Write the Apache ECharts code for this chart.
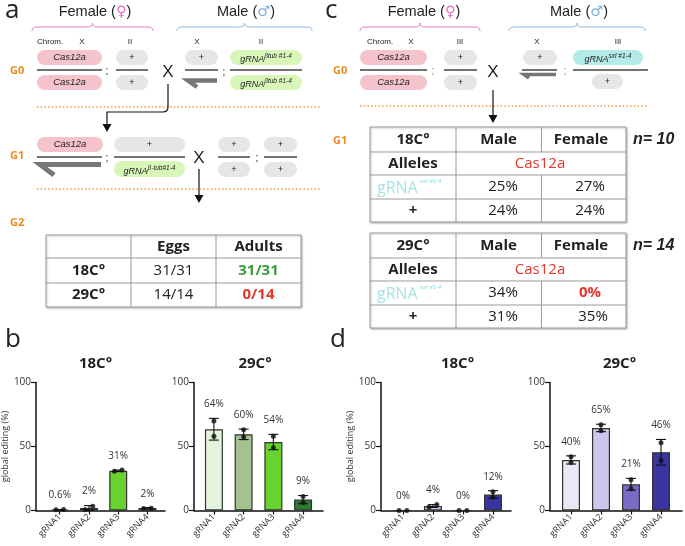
<!DOCTYPE html>
<html>
<head>
<meta charset="utf-8">
<script src="https://cdn.jsdelivr.net/npm/echarts@6/dist/echarts.min.js"></script>
<style>
  html, body { margin: 0; padding: 0; background: #fff; }
  #main { width: 685px; height: 546px; }
</style>
</head>
<body>
<div id="main"></div>
<script>
// categories + tick labels
const guides = ['gRNA1', 'gRNA2', 'gRNA3', 'gRNA4'];
const guideTicks = [0, 1, 2, 3];

// panel b, beta-tub guides
const b18Mean = [0.6, 2, 31, 2];
const b18Sd = [0.1, 1.8, 0.6, 0.2];
const b18Rep1 = [0.5, 0.6, 30.6, 1.5];
const b18Rep2 = [0.7, 3.3, 31.6, 1.7];
const b18Labels = ['0.6%', '2%', '31%', '2%'];

const b29Mean = [63.5, 59.5, 53.5, 8.5];
const b29Sd = [8.5, 4.1, 6, 3.2];
const b29Rep1 = [70, 63, 58, 11];
const b29Rep2 = [58, 57.5, 49, 6.2];
const b29Labels = ['64%', '60%', '54%', '9%'];

// panel d, sxl guides
const d18Mean = [0, 3.5, 0, 12.5];
const d18Sd = [0, 1.1, 0, 3];
const d18Rep1 = [0, 2.6, 0, 14.6];
const d18Rep2 = [0, 4.6, 0, 10.3];
const d18Labels = ['0%', '4%', '0%', '12%'];

const d29Mean = [39.5, 64.5, 20.5, 45.5];
const d29Sd = [3.2, 2.9, 4.6, 10];
const d29Rep1 = [42, 67, 24, 53];
const d29Rep2 = [37.5, 62.3, 17, 39];
const d29Labels = ['40%', '65%', '21%', '46%'];

// tables
const tableAHeader = ['', 'Eggs', 'Adults'];
const tableARows = [['18C°', '31/31', '31/31'], ['29C°', '14/14', '0/14']];
const tableC18 = [['25%', '27%'], ['24%', '24%']];
const tableC29 = [['34%', '0%'], ['31%', '35%']];

const greens = ['#e3f5da', '#a2c28f', '#68d32f', '#2e7b30'];
const purples = ['#e9e8f5', '#cdc6ee', '#7a6bc6', '#3a34a2'];

const FONT = '"Liberation Sans", Arial, sans-serif';
const TFONT = '"Open Sans", "Noto Sans", sans-serif';
const ORANGE = '#ef8a1f';

const charts = [
  { mean: b18Mean, sd: b18Sd, r1: b18Rep1, r2: b18Rep2, labels: b18Labels, colors: greens,
    left: 34, width: 131, min: -0.81, max: 3.6, title: '18C°', yName: true },
  { mean: b29Mean, sd: b29Sd, r1: b29Rep1, r2: b29Rep2, labels: b29Labels, colors: greens,
    left: 194, width: 129, min: -0.67, max: 3.67, title: '29C°' },
  { mean: d18Mean, sd: d18Sd, r1: d18Rep1, r2: d18Rep2, labels: d18Labels, colors: purples,
    left: 381, width: 130, min: -0.73, max: 3.6, title: '18C°', yName: true },
  { mean: d29Mean, sd: d29Sd, r1: d29Rep1, r2: d29Rep2, labels: d29Labels, colors: purples,
    left: 550, width: 132, min: -0.7, max: 3.7, title: '29C°' }
];

const grid = [], xAxis = [], yAxis = [], series = [];
charts.forEach((c, k) => {
  grid.push({ left: c.left, top: 382.5, width: c.width, height: 128 });
  xAxis.push({
    type: 'value', gridIndex: k, min: c.min, max: c.max,
    splitLine: { show: false },
    axisLine: { onZero: false, lineStyle: { color: '#111', width: 1.5 } },
    axisTick: { customValues: guideTicks, length: 4, lineStyle: { color: '#111', width: 1.2 } },
    axisLabel: { customValues: guideTicks, rotate: 45, fontSize: 9, color: '#333', margin: 5,
      fontFamily: TFONT, formatter: v => guides[v] }
  });
  yAxis.push({
    type: 'value', gridIndex: k, min: 0, max: 100, interval: 50,
    name: c.yName ? 'global editing (%)' : '',
    nameLocation: 'middle', nameRotate: 90, nameGap: 26,
    nameTextStyle: { fontSize: 9, color: '#333', fontFamily: TFONT },
    splitLine: { show: false },
    axisLine: { show: true, onZero: false, lineStyle: { color: '#111', width: 1.5 } },
    axisTick: { show: true, length: 5, lineStyle: { color: '#111', width: 1.2 } },
    axisLabel: { fontSize: 10, color: '#333', margin: 5, fontFamily: TFONT }
  });
  series.push({
    type: 'bar', xAxisIndex: k, yAxisIndex: k, barWidth: 18, z: 2,
    data: c.mean.map((m, i) => ({ value: [i, m],
      itemStyle: { color: c.colors[i], borderColor: '#333', borderWidth: 1.2 } }))
  });
  series.push({
    type: 'custom', xAxisIndex: k, yAxisIndex: k, z: 3, clip: false,
    data: c.mean.map((m, i) => [i, m, c.sd[i], Math.max(m + c.sd[i], c.r1[i], c.r2[i])]),
    renderItem: (params, api) => {
      const x = api.value(0), m = api.value(1), s = api.value(2), top = api.value(3);
      const pT = api.coord([x, m + s]);
      const pB = api.coord([x, Math.max(0, m - s)]);
      const pL = api.coord([x, top]);
      const st = { stroke: '#111', lineWidth: 1.1 };
      const kids = [];
      if (s > 0) {
        kids.push({ type: 'line', shape: { x1: pT[0], y1: pT[1], x2: pB[0], y2: pB[1] }, style: st });
        kids.push({ type: 'line', shape: { x1: pT[0] - 5, y1: pT[1], x2: pT[0] + 5, y2: pT[1] }, style: st });
        kids.push({ type: 'line', shape: { x1: pB[0] - 5, y1: pB[1], x2: pB[0] + 5, y2: pB[1] }, style: st });
      }
      kids.push({ type: 'text', x: pL[0], y: pL[1] - 14,
        style: { text: c.labels[params.dataIndex], fill: '#333', fontSize: 10, fontFamily: TFONT,
          textAlign: 'center', textVerticalAlign: 'middle' } });
      return { type: 'group', children: kids };
    }
  });
  const dots = [];
  c.mean.forEach((m, i) => {
    const close = Math.abs(c.r1[i] - c.r2[i]) < 3;
    dots.push([i - (close ? 0.13 : 0), c.r1[i]]);
    dots.push([i + (close ? 0.13 : 0), c.r2[i]]);
  });
  series.push({
    type: 'scatter', xAxisIndex: k, yAxisIndex: k, z: 4, symbolSize: 5,
    itemStyle: { color: '#111' }, data: dots
  });
});

// ---- diagram helpers ----
function txt(x, y, text, o) {
  return { type: 'text', x, y, silent: true, z: 10,
    style: Object.assign({ text, fill: '#222', fontSize: 10, fontFamily: FONT,
      textAlign: 'center', textVerticalAlign: 'middle' }, o || {}) };
}
function pill(x, y, w, h, fill, label, rich) {
  const r = { type: 'rect', shape: { x, y, width: w, height: h, r: h / 2 }, style: { fill }, z: 5 };
  let t;
  if (rich) {
    t = txt(x + w / 2, y + h / 2 + 1, label, { rich: {
      a: { fontSize: 9, fontStyle: 'italic', fontFamily: FONT, fill: '#222', lineHeight: 11, verticalAlign: 'bottom' },
      s: { fontSize: 6.5, fontStyle: 'italic', fontFamily: FONT, fill: '#222', lineHeight: 7, padding: [0, 0, 4, 0], verticalAlign: 'bottom' }
    } });
  } else {
    t = txt(x + w / 2, y + h / 2, label, { fontSize: label === '+' ? 9 : 9.5,
      fontStyle: label === '+' ? 'normal' : 'italic' });
  }
  return [r, t];
}
function hline(x1, x2, y, stroke, lw, dash) {
  return { type: 'line', z: 5, shape: { x1, y1: y, x2, y2: y },
    style: { stroke: stroke || '#444', lineWidth: lw || 1.5, lineDash: dash || null } };
}
function vline(x, y1, y2, stroke, lw) {
  return { type: 'line', z: 5, shape: { x1: x, y1, x2: x, y2 },
    style: { stroke: stroke || '#444', lineWidth: lw || 1 } };
}
function curve(x1, y1, cx, cy, x2, y2, stroke, lw) {
  return { type: 'bezierCurve', z: 5, shape: { x1, y1, cpx1: cx, cpy1: cy, x2, y2 },
    style: { stroke, lineWidth: lw, fill: null } };
}
function brace(x1, x2, y, color) {
  const xm = (x1 + x2) / 2;
  return [
    curve(x1, y + 4, x1, y, x1 + 5, y, color, 1),
    hline(x1 + 5, xm - 5, y, color, 1),
    curve(xm - 5, y, xm, y, xm, y - 4, color, 1),
    curve(xm, y - 4, xm, y, xm + 5, y, color, 1),
    hline(xm + 5, x2 - 5, y, color, 1),
    curve(x2 - 5, y, x2, y, x2, y + 4, color, 1)
  ];
}
function ychrom(pts, lw) {
  return { type: 'polyline', z: 5, shape: { points: pts },
    style: { stroke: '#777', lineWidth: lw || 4.5, lineJoin: 'miter', fill: null } };
}
function arrowHead(x, y) {
  return { type: 'polygon', z: 5, shape: { points: [[x - 4.5, y - 8], [x + 4.5, y - 8], [x, y]] },
    style: { fill: '#111' } };
}
function sexTitle(x, y, word, sym, col) {
  return txt(x, y, `{t|${word} (}{s|${sym}}{t|)}`, { rich: {
    t: { fontSize: 14.5, fontFamily: FONT, fill: '#222' },
    s: { fontSize: 14.5, fontFamily: '"DejaVu Sans", sans-serif', fill: col }
  } });
}
function gen(x, y, label) {
  return txt(x, y, label, { fill: ORANGE, fontSize: 11, fontWeight: 'bold', textAlign: 'left', fontFamily: TFONT });
}
function cell(x, y, text, o) {
  return txt(x, y, text, Object.assign({ fontSize: 15, fontFamily: TFONT, fill: '#222' }, o || {}));
}
function tableBox(x, y, w, h) {
  return { type: 'rect', z: 4, shape: { x, y, width: w, height: h },
    style: { fill: '#fff', stroke: '#9a9a9a', lineWidth: 1,
      shadowBlur: 2, shadowColor: 'rgba(0,0,0,0.25)', shadowOffsetX: 1, shadowOffsetY: 1 } };
}
function gRNAsxl(x, y) {
  return txt(x, y, '{a|gRNA}{s| sxl #1-4}', { textAlign: 'left', rich: {
    a: { fontSize: 16, fontFamily: TFONT, fill: '#a8e3e4', lineHeight: 18, verticalAlign: 'bottom' },
    s: { fontSize: 6, fontStyle: 'italic', fontWeight: 'bold', fontFamily: FONT, fill: '#a8e3e4', lineHeight: 12, verticalAlign: 'top' }
  } });
}

const gfx = [];
const add = (...els) => els.forEach(e => Array.isArray(e) ? gfx.push(...e) : gfx.push(e));

// ---- panel a ----
add(txt(5, 11, 'a', { fontSize: 26, textAlign: 'left', fontFamily: TFONT }));
add(sexTitle(95, 12, 'Female', '♀', '#e070c0'), brace(32, 153, 27, '#e47fc7'));
add(sexTitle(246, 12, 'Male', '♂', '#7fb0e0'), brace(177, 312, 27, '#8fb9e3'));
add(txt(37, 42, 'Chrom.', { fontSize: 8, textAlign: 'left' }), txt(82, 42, 'X', { fontSize: 8 }),
    txt(130, 42, 'II', { fontSize: 8 }), txt(197, 42, 'X', { fontSize: 8 }), txt(261, 42, 'II', { fontSize: 8 }));
add(gen(10, 71, 'G0'));
add(pill(37, 50, 65, 15, '#f5c3cb', 'Cas12a'), hline(37, 102, 70), pill(37, 75, 65, 15, '#f5c3cb', 'Cas12a'));
add(txt(107, 71, ';', { fontSize: 10 }));
add(pill(116, 50, 32, 15, '#e6e6e6', '+'), hline(116, 148, 70), pill(116, 75, 32, 15, '#e6e6e6', '+'));
add(txt(168, 72, 'X', { fontSize: 17 }));
add(pill(185, 50, 33, 15, '#e6e6e6', '+'), hline(185, 218, 70), ychrom([[197, 87], [188, 80.5], [217, 80.5]]));
add(txt(224, 72, ';', { fontSize: 10 }));
add(pill(230, 50, 72, 15, '#d9f6b9', '{a|gRNA}{s|βtub #1-4}', true), hline(230, 302, 70),
    pill(230, 75, 72, 15, '#d9f6b9', '{a|gRNA}{s|βtub #1-4}', true));
add(hline(37, 320, 107, '#f39a3c', 1.5, [1.5, 2.2]));
add({ type: 'polyline', z: 5, shape: { points: [[168, 84], [168, 107]] }, style: { stroke: '#111', lineWidth: 1.2, fill: null } },
    curve(168, 107, 168, 112, 163, 112, '#111', 1.2),
    { type: 'polyline', z: 5, shape: { points: [[163, 112], [107, 112], [107, 125]] }, style: { stroke: '#111', lineWidth: 1.2, fill: null } },
    arrowHead(107, 132));

add(gen(10, 156, 'G1'));
add(pill(37, 137, 66, 15, '#f5c3cb', 'Cas12a'), hline(37, 102, 157), ychrom([[54, 175], [40, 164.5], [101, 164.5]], 5));
add(txt(107, 158, ';', { fontSize: 10 }));
add(pill(114, 137, 71, 15, '#e6e6e6', '+'), hline(114, 185, 157),
    pill(114, 161, 71, 16, '#d9f6b9', '{a|gRNA}{s|β-tub#1-4}', true));
add(txt(199, 158, 'X', { fontSize: 17 }));
add(vline(199, 169, 196, '#111', 1.2), arrowHead(199, 203));
add(pill(218, 137, 32, 15, '#e6e6e6', '+'), hline(218, 250, 157), pill(218, 162, 32, 15, '#e6e6e6', '+'));
add(txt(257, 158, ';', { fontSize: 10 }));
add(pill(264, 137, 33, 15, '#e6e6e6', '+'), hline(264, 297, 157), pill(264, 162, 33, 15, '#e6e6e6', '+'));
add(hline(37, 320, 189, '#f39a3c', 1.5, [1.5, 2.2]));
add(gen(10, 223, 'G2'));

// table a
add(tableBox(46, 235, 255, 72));
add(vline(131, 235, 307, '#9a9a9a'), vline(216, 235, 307, '#9a9a9a'),
    hline(46, 301, 258, '#9a9a9a', 1), hline(46, 301, 283, '#9a9a9a', 1));
add(cell(173.5, 246.5, tableAHeader[1], { fontWeight: 'bold' }), cell(258.5, 246.5, tableAHeader[2], { fontWeight: 'bold' }));
const tAy = [270.5, 295];
tableARows.forEach((r, i) => {
  add(cell(88.5, tAy[i], r[0], { fontWeight: 'bold' }), cell(173.5, tAy[i], r[1]),
      cell(258.5, tAy[i], r[2], { fontWeight: 'bold', fill: i === 0 ? '#3a9d3c' : '#e5372b' }));
});

// ---- panel c ----
add(txt(325, 11, 'c', { fontSize: 26, textAlign: 'left', fontFamily: TFONT }));
add(sexTitle(424, 12, 'Female', '♀', '#e070c0'), brace(360, 480, 27, '#e47fc7'));
add(sexTitle(579, 12, 'Male', '♂', '#7fb0e0'), brace(509, 645, 27, '#8fb9e3'));
add(txt(367, 42, 'Chrom.', { fontSize: 8, textAlign: 'left' }), txt(411, 42, 'X', { fontSize: 8 }),
    txt(460, 42, 'III', { fontSize: 8 }), txt(537, 42, 'X', { fontSize: 8 }), txt(618, 42, 'III', { fontSize: 8 }));
add(gen(333, 71, 'G0'));
add(pill(360, 50, 67, 15, '#f5c3cb', 'Cas12a'), hline(360, 427, 70), pill(360, 75, 67, 15, '#f5c3cb', 'Cas12a'));
add(txt(433, 71, ';', { fontSize: 10, fill: '#888' }));
add(pill(444, 50, 33, 15, '#e6e6e6', '+'), hline(444, 477, 70), pill(444, 75, 33, 15, '#e6e6e6', '+'));
add(txt(493, 72, 'X', { fontSize: 17 }));
add(pill(523, 50, 34, 15, '#e6e6e6', '+'), hline(522, 557, 70), ychrom([[529, 78], [524, 74.5], [556, 74.5]], 3.5));
add(txt(565, 71, ';', { fontSize: 10, fill: '#888' }));
add(pill(573, 50, 70, 15, '#b2ebe7', '{a|gRNA}{s|sxl #1-4}', true), hline(573, 648, 70),
    pill(592, 74, 31, 15, '#e6e6e6', '+'));
add(hline(360, 647, 106, '#f39a3c', 1.5, [1.5, 2.2]));
add(vline(493, 90, 116, '#111', 1.2), arrowHead(493, 123));
add(gen(333, 141, 'G1'));

function sxlTable(y0, h, rows, temp, n, col3x) {
  const rowsY = [y0, y0 + h * 0.263, y0 + h * 0.505, y0 + h * 0.758, y0 + h];
  add(tableBox(370, y0, 256, h));
  add(vline(456, y0, y0 + h, '#9a9a9a'));
  add(vline(541.5, rowsY[0], rowsY[1], '#9a9a9a'), vline(541.5, rowsY[2], rowsY[4], '#9a9a9a'));
  add(hline(370, 626, rowsY[1], '#9a9a9a', 1), hline(370, 626, rowsY[2], '#9a9a9a', 1), hline(370, 626, rowsY[3], '#9a9a9a', 1));
  const cy = i => (rowsY[i] + rowsY[i + 1]) / 2;
  add(cell(413, cy(0), temp, { fontWeight: 'bold' }), cell(498.5, cy(0), 'Male', { fontWeight: 'bold' }),
      cell(581, cy(0), 'Female', { fontWeight: 'bold' }));
  add(cell(413, cy(1), 'Alleles', { fontWeight: 'bold' }), cell(540, cy(1), 'Cas12a', { fill: '#e5372b' }));
  add(gRNAsxl(377, cy(2)));
  add(cell(503, cy(2), rows[0][0]),
      cell(590, cy(2), rows[0][1], rows[0][1] === '0%' ? { fill: '#e5372b', fontWeight: 'bold' } : {}));
  add(cell(413, cy(3), '+', { fontWeight: 'bold' }), cell(503, cy(3), rows[1][0]), cell(col3x, cy(3), rows[1][1]));
  add(txt(633, cy(0), n, { fontSize: 16, fontWeight: 'bold', fontStyle: 'italic', textAlign: 'left', fontFamily: FONT }));
}
sxlTable(127, 95, tableC18, '18C°', 'n= 10', 590);
sxlTable(233, 95, tableC29, '29C°', 'n= 14', 593);

// ---- panels b, d labels and titles ----
add(txt(5, 340, 'b', { fontSize: 26, textAlign: 'left', fontFamily: TFONT }));
add(txt(330, 340, 'd', { fontSize: 26, textAlign: 'left', fontFamily: TFONT }));
[95.5, 255, 457.5, 619.5].forEach((x, k) => {
  add(txt(x, 364, charts[k].title, { fontSize: 15, fontWeight: 'bold', fontFamily: TFONT }));
});

const chart = echarts.init(document.getElementById('main'));
chart.setOption({
  animation: false,
  backgroundColor: '#fff',
  grid, xAxis, yAxis, series,
  graphic: { elements: gfx }
});
</script>
</body>
</html>
